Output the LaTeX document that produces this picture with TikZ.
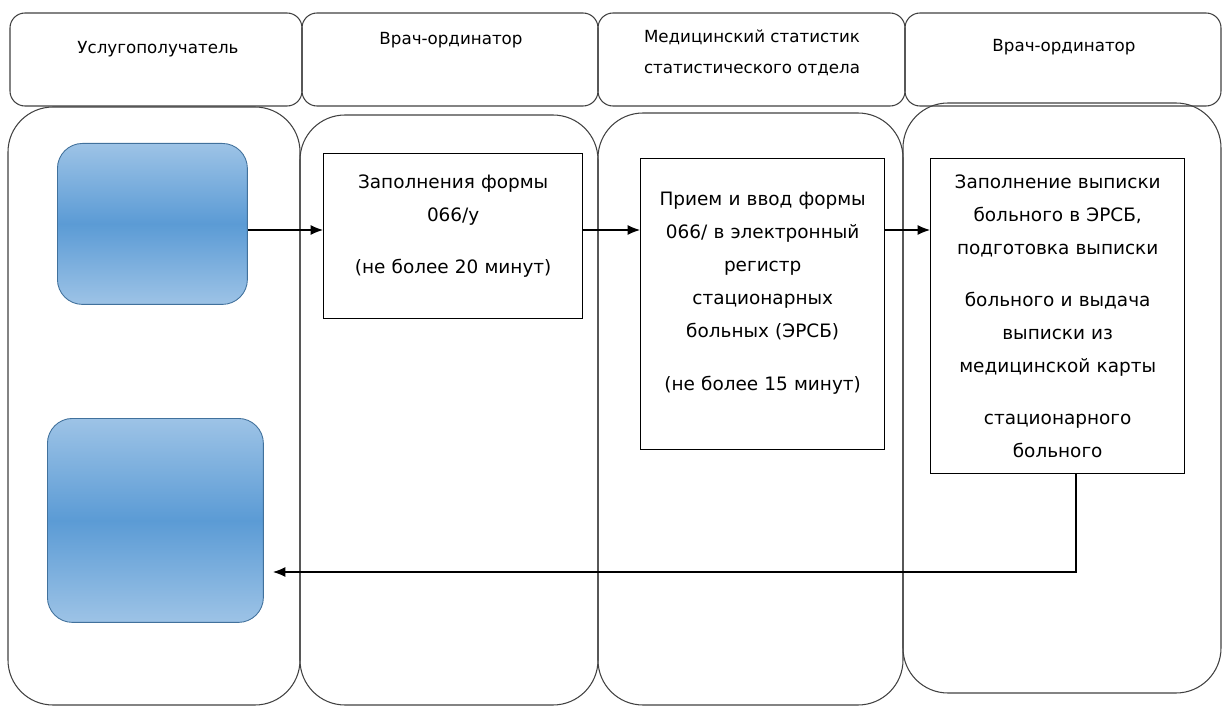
\documentclass[tikz,border=0pt]{standalone}
\usepackage{fontspec}
\setmainfont{DejaVu Sans}
\usetikzlibrary{positioning,arrows.meta}

\definecolor{bluelight}{RGB}{157,195,230}
\definecolor{bluemid}{RGB}{91,155,213}
\definecolor{blueedge}{RGB}{65,113,156}

\tikzset{
  header/.style={draw=black!75, line width=0.6pt, rounded corners=0.3cm},
  lane/.style={draw=black!75, line width=0.6pt, rounded corners=0.9cm},
  headtext/.style={font=\fontsize{9.5}{17.6}\selectfont, align=center, inner sep=0pt},
  taskbox/.style={draw, line width=0.8pt, anchor=north west, inner sep=0pt},
  tasktext/.style={font=\fontsize{10.5}{18.8}\selectfont, align=center, inner sep=0pt, text width=4.9cm},
  bluebox/.style={draw=blueedge, line width=0.5pt, rounded corners=0.5cm, anchor=north west,
    top color=bluelight, bottom color=bluelight, middle color=bluemid},
  arr/.style={-{Latex[length=0.25cm,width=0.2cm]}, line width=0.6pt}
}

\begin{document}
\begin{tikzpicture}[x=0.02cm, y=-0.02cm]
  \useasboundingbox (0,0) rectangle (1225,706);

  % swimlanes
  \draw[lane] (8,107) rectangle (300,705);
  \draw[lane] (300,115) rectangle (598,705);
  \draw[lane] (598,113) rectangle (903,705);
  \draw[lane] (903,103) rectangle (1221,693);

  % headers
  \draw[header] (10,13) rectangle (302,106);
  \draw[header] (302,13) rectangle (598,106);
  \draw[header] (598,13) rectangle (905,106);
  \draw[header] (905,13) rectangle (1221,106);

  \node[headtext] (h1) at (158,49) {Услугополучатель};
  \node[headtext] (h2) at (451,40) {Врач-ординатор};
  \node[headtext] (h3) at (752,53) {Медицинский статистик\\статистического отдела};
  \node[headtext] (h4) at (1064,47) {Врач-ординатор};

  % service recipient
  \node[bluebox, minimum width=3.8cm, minimum height=3.22cm] (B1) at (57,143) {};
  \node[bluebox, minimum width=4.32cm, minimum height=4.08cm] (B2) at (47,418) {};

  % steps
  \node[taskbox, minimum width=5.18cm, minimum height=3.3cm] (A) at (323,153) {};
  \node[tasktext, anchor=north, below=0.42cm of A.north] (At)
    {Заполнения формы\\066/у\\[11pt](не более 20 минут)};

  \node[taskbox, minimum width=4.88cm, minimum height=5.82cm] (B) at (640,158) {};
  \node[tasktext, anchor=north, below=0.68cm of B.north] (Bt)
    {Прием и ввод формы\\066/ в электронный\\регистр\\стационарных\\больных (ЭРСБ)\\[11pt](не более 15 минут)};

  \node[taskbox, minimum width=5.08cm, minimum height=6.3cm] (C) at (930,158) {};
  \node[tasktext, anchor=north, below=0.32cm of C.north] (Ct)
    {Заполнение выписки\\больного в ЭРСБ,\\подготовка выписки\\[11pt]больного и выдача\\выписки из\\медицинской карты\\[11pt]стационарного\\больного};

  % flow
  \coordinate (flow) at (0,230);
  \coordinate (turn) at (1076,572);
  \coordinate (ret) at (273,572);
  \draw[arr] (B1.east |- flow) -- (A.west |- flow);
  \draw[arr] (A.east |- flow) -- (B.west |- flow);
  \draw[arr] (B.east |- flow) -- (C.west |- flow);
  \draw[arr] (C.south -| turn) -- (turn) -- (ret);
\end{tikzpicture}
\end{document}
